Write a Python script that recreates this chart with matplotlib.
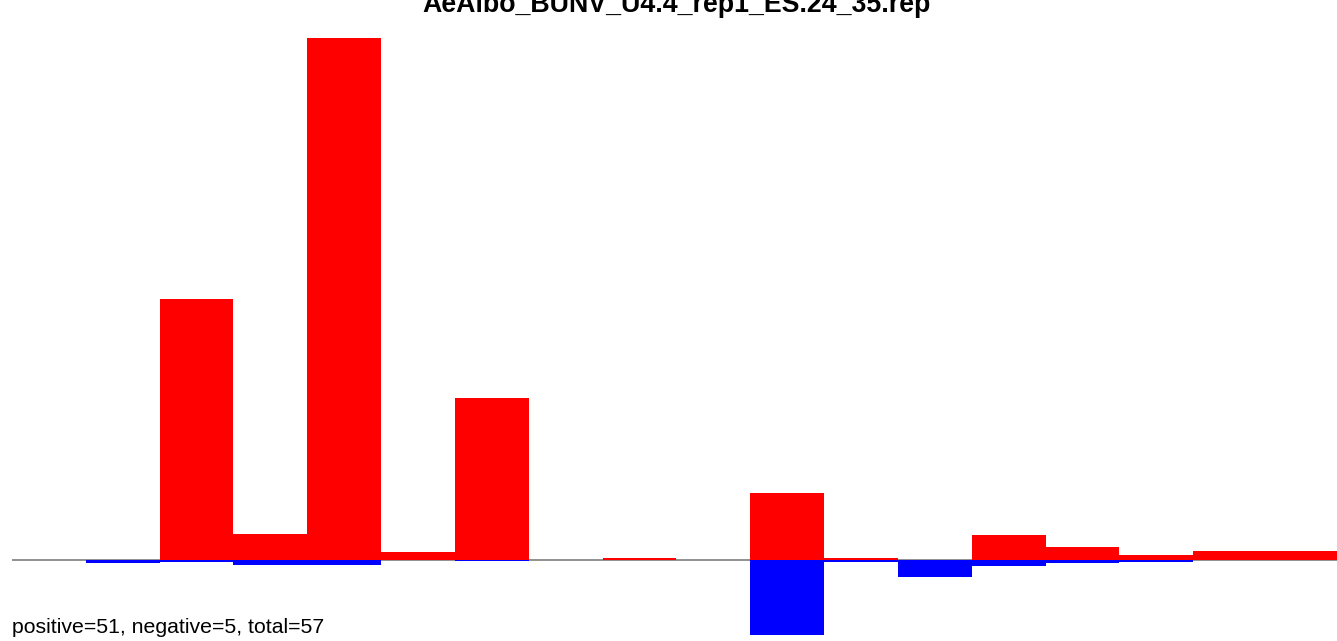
#!/usr/bin/env python3
"""Positive / negative bar profile for a rep file."""
import numpy as np
import matplotlib
matplotlib.use('Agg')
import matplotlib.pyplot as plt

plt.rcParams['font.family'] = ['Liberation Sans', 'DejaVu Sans']

title = 'AeAlbo_BUNV_U4.4_rep1_ES.24_35.rep'
summary = 'positive=51, negative=5, total=57'

# one value per bin
bins = np.arange(18)
positive = [0, 0.5, 261, 26, 522, 8, 162, 0, 2, 0, 67, 2, 0.5, 25, 13, 5, 9, 9]
negative = [0, -3, -1.5, -5, -5, 0, -1, 0, 0, 0, -75, -2, -17, -6, -3, -2, 0, 0]

W, H = 1337, 641
fig = plt.figure(figsize=(W / 100, H / 100), dpi=100)
# last bin runs a little past the right edge
ax = fig.add_axes([12 / W, 0, 1329 / W, 1])

ax.axhline(0, color='#888888', lw=1.3, zorder=1)
ax.bar(bins, positive, width=1, align='edge', color='#ff0000', lw=0, zorder=2)
ax.bar(bins, negative, width=1, align='edge', color='#0000ff', lw=0, zorder=3)

ax.set_xlim(0, 18)
ax.set_ylim(-81, 560)
ax.axis('off')

fig.text(677 / W, 1 - 12 / H, title, ha='center', va='baseline',
         fontsize=19.3, fontweight='bold')
fig.text(12 / W, 1 - 633 / H, summary, ha='left', va='baseline', fontsize=15.3)

plt.savefig('out.png', dpi=100)
plt.close()
print("saved out.png")
